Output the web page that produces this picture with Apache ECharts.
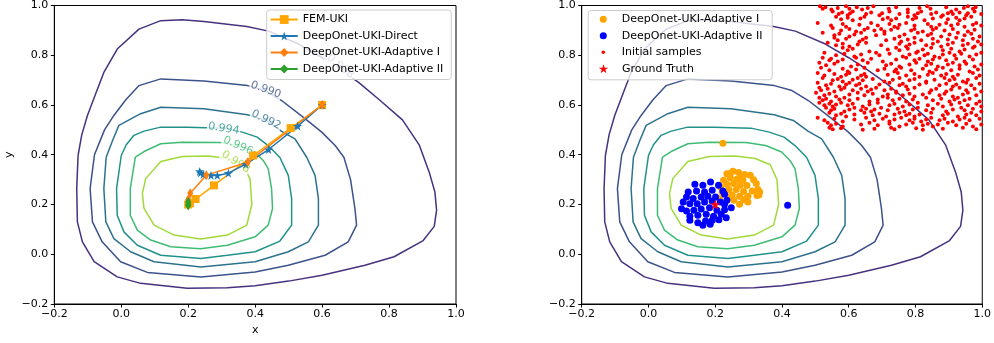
<!DOCTYPE html>
<html><head><meta charset="utf-8">
<script src="https://cdn.jsdelivr.net/npm/echarts@6/dist/echarts.min.js"></script>
<style>html,body{margin:0;padding:0;background:#fff}#c{width:994px;height:343px}</style>
</head><body><div id="c"></div>
<script>
// ---------- data ----------
const tickValues = [-0.2, 0.0, 0.2, 0.4, 0.6, 0.8, 1.0];
const contourLevels = ['0.988', '0.990', '0.992', '0.994', '0.996', '0.998'];
const contour988 = [[-0.129,0.397],[-0.118,0.48],[-0.101,0.558],[-0.075,0.65],[-0.052,0.731],[-0.012,0.825],[0.053,0.905],[0.118,0.939],[0.182,0.943],[0.247,0.936],[0.317,0.925],[0.375,0.916],[0.44,0.897],[0.53,0.845],[0.6,0.79],[0.655,0.742],[0.71,0.69],[0.77,0.622],[0.84,0.54],[0.89,0.44],[0.92,0.33],[0.937,0.25],[0.942,0.177],[0.935,0.112],[0.902,0.055],[0.815,-0.01],[0.728,-0.044],[0.6,-0.084],[0.5,-0.108],[0.4,-0.127],[0.317,-0.135],[0.197,-0.137],[0.058,-0.117],[-0.012,-0.091],[-0.081,-0.03],[-0.116,0.05],[-0.131,0.13],[-0.133,0.264],[-0.129,0.397]];
const contour990 = [[-0.08,0.4],[-0.05,0.5],[-0.022,0.558],[0.013,0.62],[0.053,0.678],[0.118,0.705],[0.247,0.696],[0.377,0.678],[0.43,0.658],[0.479,0.618],[0.549,0.545],[0.599,0.491],[0.639,0.437],[0.665,0.39],[0.685,0.3],[0.698,0.184],[0.703,0.117],[0.678,0.05],[0.609,-0.004],[0.499,-0.044],[0.4,-0.071],[0.238,-0.091],[0.078,-0.073],[-0.002,-0.03],[-0.057,0.05],[-0.086,0.13],[-0.093,0.264],[-0.08,0.4]];
const contour992 = [[-0.045,0.39],[-0.025,0.46],[-0.007,0.518],[0.058,0.565],[0.118,0.591],[0.247,0.585],[0.377,0.561],[0.434,0.538],[0.479,0.494],[0.519,0.464],[0.554,0.39],[0.579,0.317],[0.589,0.224],[0.589,0.117],[0.559,0.05],[0.499,0.01],[0.4,-0.03],[0.238,-0.051],[0.098,-0.03],[0.028,0.01],[-0.022,0.063],[-0.046,0.13],[-0.052,0.264],[-0.045,0.39]];
const contour994 = [[0.0,0.397],[0.015,0.44],[0.038,0.478],[0.068,0.495],[0.118,0.511],[0.197,0.511],[0.307,0.507],[0.362,0.491],[0.406,0.471],[0.439,0.437],[0.474,0.389],[0.499,0.317],[0.509,0.224],[0.509,0.117],[0.474,0.053],[0.4,0.01],[0.317,-0.004],[0.238,-0.017],[0.118,-0.004],[0.048,0.036],[0.008,0.09],[-0.012,0.157],[-0.014,0.264],[0.0,0.397]];
const contour996 = [[0.042,0.39],[0.068,0.413],[0.118,0.444],[0.182,0.45],[0.292,0.449],[0.351,0.437],[0.399,0.411],[0.424,0.377],[0.439,0.344],[0.449,0.264],[0.452,0.184],[0.439,0.117],[0.4,0.07],[0.317,0.036],[0.237,0.022],[0.148,0.03],[0.088,0.057],[0.048,0.097],[0.027,0.157],[0.027,0.264],[0.042,0.39]];
const contour998 = [[0.063,0.244],[0.073,0.304],[0.118,0.373],[0.182,0.393],[0.26,0.395],[0.32,0.385],[0.365,0.36],[0.385,0.3],[0.39,0.2],[0.375,0.117],[0.317,0.077],[0.237,0.061],[0.158,0.077],[0.098,0.117],[0.068,0.184],[0.063,0.244]];
const contourLabelAt = [[0.655,0.755],[0.432,0.661],[0.433,0.54],[0.306,0.505],[0.349,0.436],[0.342,0.371]];

const femUki = [[0.6,0.6],[0.506,0.507],[0.394,0.397],[0.277,0.277],[0.222,0.222],[0.205,0.205],[0.2,0.2]];
const deepOnetDirect = [[0.6,0.6],[0.527,0.515],[0.44,0.421],[0.372,0.362],[0.32,0.326],[0.287,0.317],[0.268,0.317],[0.245,0.321],[0.237,0.327],[0.234,0.333]];
const deepOnetAdaptive1 = [[0.6,0.6],[0.378,0.37],[0.254,0.318],[0.206,0.245],[0.2,0.22],[0.2,0.205]];
const deepOnetAdaptive2 = [[0.2,0.21],[0.2,0.2],[0.2,0.196]];

const adaptive1Samples = [[0.223,0.446],[0.235,0.324],[0.253,0.334],[0.27,0.329],[0.288,0.321],[0.305,0.318],[0.245,0.326],[0.278,0.313],[0.245,0.308],[0.225,0.297],[0.265,0.302],[0.283,0.297],[0.315,0.3],[0.235,0.281],[0.255,0.284],[0.275,0.277],[0.295,0.276],[0.323,0.284],[0.241,0.26],[0.263,0.26],[0.285,0.252],[0.311,0.254],[0.333,0.25],[0.328,0.26],[0.221,0.249],[0.216,0.27],[0.251,0.238],[0.273,0.233],[0.298,0.233],[0.325,0.236],[0.241,0.23],[0.256,0.217],[0.285,0.219],[0.298,0.21],[0.273,0.201],[0.213,0.223],[0.331,0.238],[0.293,0.224]];
const adaptive2Samples = [[0.139,0.281],[0.163,0.277],[0.186,0.29],[0.21,0.277],[0.119,0.25],[0.144,0.254],[0.168,0.25],[0.191,0.257],[0.223,0.254],[0.114,0.23],[0.134,0.224],[0.158,0.23],[0.178,0.233],[0.201,0.23],[0.228,0.241],[0.099,0.183],[0.104,0.21],[0.124,0.203],[0.146,0.203],[0.168,0.21],[0.191,0.214],[0.215,0.21],[0.235,0.217],[0.228,0.201],[0.248,0.187],[0.114,0.174],[0.136,0.177],[0.158,0.182],[0.183,0.187],[0.205,0.177],[0.228,0.179],[0.124,0.153],[0.148,0.157],[0.173,0.161],[0.195,0.153],[0.218,0.161],[0.233,0.147],[0.124,0.137],[0.148,0.127],[0.171,0.134],[0.191,0.137],[0.211,0.139],[0.163,0.117],[0.185,0.121],[0.417,0.197]];
const initialSamples = [
[0.514,0.997],[0.522,0.987],[0.53,0.993],[0.548,0.984],[0.567,0.99],[0.592,0.997],[0.602,0.987],[0.624,0.993],[0.64,0.984],[0.657,0.99],[0.674,0.997],[0.72,0.987],[0.742,0.993],[0.777,0.984],[0.812,0.99],[0.835,0.997],[0.845,0.987],[0.892,0.993],[0.922,0.984],[0.945,0.99],[0.957,0.997],[0.972,0.987],[0.98,0.993],
[0.552,0.976],[0.57,0.966],[0.58,0.972],[0.597,0.961],[0.604,0.969],[0.612,0.976],[0.652,0.966],[0.667,0.972],[0.692,0.961],[0.7,0.969],[0.722,0.976],[0.752,0.966],[0.777,0.972],[0.797,0.961],[0.807,0.969],[0.817,0.976],[0.847,0.966],[0.862,0.972],[0.882,0.961],[0.897,0.969],[0.907,0.976],[0.912,0.966],[0.932,0.972],[0.952,0.961],[0.957,0.969],[0.977,0.976],[0.997,0.966],
[0.562,0.955],[0.577,0.945],[0.597,0.951],[0.612,0.941],[0.635,0.948],[0.647,0.955],[0.702,0.945],[0.717,0.951],[0.727,0.941],[0.742,0.948],[0.777,0.955],[0.792,0.945],[0.802,0.951],[0.827,0.941],[0.852,0.948],[0.877,0.955],[0.897,0.945],[0.922,0.951],[0.932,0.941],[0.947,0.948],[0.967,0.955],
[0.507,0.93],[0.547,0.92],[0.582,0.926],[0.592,0.915],[0.632,0.923],[0.667,0.93],[0.687,0.92],[0.722,0.926],[0.737,0.915],[0.752,0.923],[0.772,0.93],[0.797,0.92],[0.837,0.926],[0.847,0.915],[0.872,0.923],[0.892,0.93],[0.907,0.92],[0.927,0.926],[0.947,0.915],[0.972,0.923],[0.982,0.93],[0.997,0.92],
[0.552,0.91],[0.577,0.9],[0.602,0.906],[0.622,0.895],[0.647,0.903],[0.657,0.91],[0.677,0.9],[0.697,0.906],[0.707,0.895],[0.727,0.903],[0.747,0.91],[0.787,0.9],[0.797,0.906],[0.822,0.895],[0.852,0.903],[0.862,0.91],[0.887,0.9],[0.912,0.906],[0.957,0.895],[0.977,0.903],
[0.522,0.89],[0.557,0.88],[0.572,0.886],[0.602,0.875],[0.617,0.883],[0.637,0.89],[0.682,0.88],[0.707,0.886],[0.752,0.875],[0.767,0.883],[0.807,0.89],[0.837,0.88],[0.847,0.886],[0.877,0.875],[0.902,0.883],[0.927,0.89],[0.947,0.88],[0.967,0.886],[0.992,0.875],
[0.557,0.87],[0.567,0.86],[0.592,0.866],[0.632,0.855],[0.642,0.863],[0.652,0.87],[0.712,0.86],[0.737,0.866],[0.757,0.855],[0.777,0.863],[0.797,0.87],[0.817,0.86],[0.852,0.866],[0.867,0.855],[0.897,0.863],[0.922,0.87],[0.942,0.86],[0.972,0.866],[0.987,0.855],
[0.537,0.85],[0.562,0.84],[0.582,0.846],[0.602,0.835],[0.627,0.843],[0.652,0.85],[0.697,0.84],[0.752,0.846],[0.772,0.835],[0.782,0.843],[0.797,0.85],[0.832,0.84],[0.852,0.846],[0.877,0.835],[0.897,0.843],[0.912,0.85],[0.942,0.84],[0.957,0.846],[0.977,0.835],[0.997,0.843],
[0.582,0.83],[0.597,0.82],[0.612,0.826],[0.662,0.815],[0.717,0.823],[0.742,0.83],[0.752,0.82],[0.777,0.826],[0.807,0.815],[0.822,0.823],[0.847,0.83],[0.882,0.82],[0.907,0.826],[0.932,0.815],[0.947,0.823],[0.972,0.83],
[0.527,0.81],[0.562,0.8],[0.587,0.806],[0.617,0.795],[0.637,0.803],[0.682,0.81],[0.692,0.8],[0.722,0.806],[0.762,0.795],[0.782,0.803],[0.802,0.81],[0.827,0.8],[0.837,0.806],[0.857,0.795],[0.882,0.803],[0.902,0.81],[0.917,0.8],[0.937,0.806],[0.962,0.795],[0.982,0.803],[0.997,0.81],
[0.522,0.79],[0.542,0.78],[0.547,0.786],[0.567,0.775],[0.582,0.783],[0.622,0.79],[0.642,0.78],[0.667,0.786],[0.702,0.775],[0.742,0.783],[0.772,0.79],[0.797,0.78],[0.812,0.786],[0.837,0.775],[0.852,0.783],[0.872,0.79],[0.892,0.78],[0.922,0.786],[0.947,0.775],[0.972,0.783],
[0.512,0.77],[0.532,0.76],[0.557,0.766],[0.607,0.755],[0.627,0.763],[0.657,0.77],[0.712,0.76],[0.727,0.766],[0.752,0.755],[0.782,0.763],[0.802,0.77],[0.832,0.76],[0.847,0.766],[0.867,0.755],[0.897,0.763],[0.912,0.77],[0.932,0.76],[0.952,0.766],[0.977,0.755],[0.997,0.763],
[0.517,0.75],[0.542,0.74],[0.582,0.746],[0.597,0.735],[0.622,0.743],[0.647,0.75],[0.687,0.74],[0.707,0.746],[0.737,0.735],[0.742,0.743],[0.757,0.75],[0.787,0.74],[0.822,0.746],[0.842,0.735],[0.862,0.743],[0.882,0.75],[0.907,0.74],[0.932,0.746],[0.962,0.735],[0.987,0.743],
[0.507,0.729],[0.527,0.719],[0.557,0.725],[0.577,0.714],[0.592,0.722],[0.602,0.729],[0.637,0.719],[0.647,0.725],[0.652,0.714],[0.717,0.722],[0.747,0.729],[0.772,0.719],[0.797,0.725],[0.812,0.714],[0.837,0.722],[0.852,0.729],[0.877,0.719],[0.892,0.725],[0.912,0.714],[0.927,0.722],[0.972,0.729],[0.992,0.719],
[0.522,0.709],[0.552,0.699],[0.567,0.705],[0.582,0.694],[0.612,0.702],[0.627,0.709],[0.642,0.699],[0.672,0.705],[0.707,0.694],[0.732,0.702],[0.752,0.709],[0.782,0.699],[0.797,0.705],[0.832,0.694],[0.857,0.702],[0.887,0.709],[0.902,0.699],[0.917,0.705],[0.942,0.694],[0.957,0.702],[0.982,0.709],
[0.507,0.689],[0.532,0.679],[0.547,0.685],[0.572,0.674],[0.592,0.682],[0.602,0.689],[0.622,0.679],[0.632,0.685],[0.652,0.674],[0.692,0.682],[0.722,0.689],[0.752,0.679],[0.762,0.685],[0.772,0.674],[0.812,0.682],[0.832,0.689],[0.872,0.679],[0.892,0.685],[0.912,0.674],[0.922,0.682],[0.952,0.689],[0.967,0.679],[0.992,0.685],
[0.512,0.669],[0.517,0.659],[0.537,0.665],[0.557,0.654],[0.577,0.662],[0.587,0.669],[0.612,0.659],[0.637,0.665],[0.657,0.654],[0.667,0.662],[0.682,0.669],[0.707,0.659],[0.727,0.665],[0.742,0.654],[0.777,0.662],[0.797,0.669],[0.847,0.659],[0.862,0.665],[0.892,0.654],[0.907,0.662],[0.932,0.669],[0.952,0.659],[0.977,0.665],[0.997,0.654],
[0.502,0.649],[0.527,0.639],[0.542,0.645],[0.562,0.634],[0.602,0.642],[0.627,0.649],[0.647,0.639],[0.672,0.645],[0.702,0.634],[0.717,0.642],[0.742,0.649],[0.762,0.639],[0.782,0.645],[0.797,0.634],[0.822,0.642],[0.842,0.649],[0.872,0.639],[0.887,0.645],[0.912,0.634],[0.942,0.642],[0.957,0.649],[0.982,0.639],
[0.512,0.629],[0.522,0.619],[0.532,0.625],[0.547,0.614],[0.572,0.622],[0.587,0.629],[0.602,0.619],[0.627,0.625],[0.662,0.614],[0.687,0.622],[0.717,0.629],[0.732,0.619],[0.752,0.625],[0.772,0.614],[0.792,0.622],[0.832,0.629],[0.852,0.619],[0.877,0.625],[0.902,0.614],[0.917,0.622],[0.927,0.629],[0.947,0.619],[0.962,0.625],[0.992,0.614],
[0.512,0.609],[0.527,0.599],[0.542,0.605],[0.552,0.594],[0.562,0.602],[0.577,0.609],[0.597,0.599],[0.612,0.605],[0.642,0.594],[0.662,0.602],[0.687,0.609],[0.722,0.599],[0.737,0.605],[0.762,0.594],[0.782,0.602],[0.807,0.609],[0.837,0.599],[0.867,0.605],[0.882,0.594],[0.907,0.602],[0.932,0.609],[0.957,0.599],[0.982,0.605],[0.997,0.594],
[0.532,0.589],[0.547,0.579],[0.557,0.585],[0.587,0.574],[0.602,0.582],[0.617,0.589],[0.637,0.579],[0.652,0.585],[0.667,0.574],[0.677,0.582],[0.697,0.589],[0.717,0.579],[0.747,0.585],[0.767,0.574],[0.792,0.582],[0.807,0.589],[0.832,0.579],[0.852,0.585],[0.892,0.574],[0.912,0.582],[0.937,0.589],[0.947,0.579],[0.972,0.585],[0.997,0.574],
[0.542,0.569],[0.562,0.559],[0.577,0.565],[0.592,0.554],[0.617,0.562],[0.647,0.569],[0.672,0.559],[0.692,0.565],[0.712,0.554],[0.737,0.562],[0.752,0.569],[0.772,0.559],[0.782,0.565],[0.797,0.554],[0.812,0.562],[0.847,0.569],[0.882,0.559],[0.897,0.565],[0.927,0.554],[0.952,0.562],[0.967,0.569],[0.982,0.559],
[0.507,0.549],[0.527,0.539],[0.557,0.545],[0.582,0.534],[0.617,0.542],[0.652,0.549],[0.677,0.539],[0.702,0.545],[0.722,0.534],[0.737,0.542],[0.757,0.549],[0.782,0.539],[0.797,0.545],[0.817,0.534],[0.832,0.542],[0.847,0.549],[0.872,0.539],[0.887,0.545],[0.912,0.534],[0.932,0.542],[0.947,0.549],[0.962,0.539],[0.992,0.545],
[0.537,0.529],[0.547,0.519],[0.562,0.525],[0.582,0.514],[0.637,0.522],[0.662,0.529],[0.687,0.519],[0.722,0.525],[0.752,0.514],[0.772,0.522],[0.792,0.529],[0.822,0.519],[0.837,0.525],[0.852,0.514],[0.867,0.522],[0.897,0.529],[0.922,0.519],[0.952,0.525],[0.972,0.514],[0.997,0.522],
[0.542,0.509],[0.552,0.503],[0.577,0.507],[0.642,0.501],[0.677,0.505],[0.727,0.509],[0.737,0.503],[0.802,0.507],[0.822,0.501],[0.882,0.505],[0.942,0.509],[0.982,0.503]
];
const groundTruth = [[0.2, 0.2]];

// ---------- styling ----------
const FONT = "'DejaVu Sans', sans-serif";
const FS = 11;
const contours = [contour988, contour990, contour992, contour994, contour996, contour998];
const contourColors = ['#46327e', '#3b528b', '#2c728e', '#21918c', '#3fbc73', '#a0da39'];
const contourLabelRotate = [-40, -20, -26, -9, -24, -34];
const STAR = 'path://M0,-10L2.245,-3.09L9.511,-3.09L3.633,1.18L5.878,8.09L0,3.82L-5.878,8.09L-3.633,1.18L-9.511,-3.09L-2.245,-3.09Z';
const fmt = v => { const r = Math.round(v * 10) / 10; return (r < 0 ? '\u2212' : '') + Math.abs(r).toFixed(1); };

function mkAxis(gridIndex, isX, name) {
  return {
    type: 'value', gridIndex, min: tickValues[0], max: tickValues[tickValues.length - 1], interval: 0.2,
    name: name || '', nameLocation: 'middle', nameGap: isX ? 20 : 40,
    nameTextStyle: { fontFamily: FONT, fontSize: FS, color: '#000' },
    axisLine: { show: true, onZero: false, lineStyle: { color: '#000', width: 1 } },
    axisTick: { show: true, inside: false, length: 3.5, lineStyle: { color: '#000', width: 1 } },
    axisLabel: { formatter: fmt, fontFamily: FONT, fontSize: FS, color: '#000', margin: isX ? 5 : 6 },
    splitLine: { show: false }
  };
}

const series = [];
[0, 1].forEach(p => {
  contours.forEach((pts, i) => series.push({
    type: 'line', xAxisIndex: p, yAxisIndex: p, data: pts, symbol: 'none', silent: true, z: 2,
    lineStyle: { color: contourColors[i], width: 1.5 }
  }));
});
series.push({
  type: 'scatter', xAxisIndex: 0, yAxisIndex: 0, symbolSize: 1, silent: true, z: 2,
  itemStyle: { color: 'rgba(0,0,0,0)' },
  label: { show: true, position: 'inside', fontFamily: FONT, fontSize: FS, backgroundColor: '#fff', padding: [0, 1] },
  data: contourLevels.map((t, i) => ({ value: contourLabelAt[i], label: { formatter: t, rotate: contourLabelRotate[i], color: contourColors[i] } }))
});
const traj = [
  ['FEM-UKI', femUki, 'rect', 8, '#ffa500'],
  ['DeepOnet-UKI-Direct', deepOnetDirect, STAR, 9, '#1f77b4'],
  ['DeepOnet-UKI-Adaptive I', deepOnetAdaptive1, 'diamond', [6, 10], '#ff7f0e'],
  ['DeepOnet-UKI-Adaptive II', deepOnetAdaptive2, 'diamond', [6, 10], '#2ca02c']
];
traj.forEach(t => series.push({
  type: 'line', name: t[0], xAxisIndex: 0, yAxisIndex: 0, data: t[1], symbol: t[2], symbolSize: t[3],
  showSymbol: true, z: 3, lineStyle: { color: t[4], width: 1.5 }, itemStyle: { color: t[4] }
}));
series.push({ type: 'scatter', name: 'DeepOnet-UKI-Adaptive I', xAxisIndex: 1, yAxisIndex: 1, data: adaptive1Samples, symbolSize: 7, z: 3, itemStyle: { color: '#ffa500', opacity: 1 } });
series.push({ type: 'scatter', name: 'DeepOnet-UKI-Adaptive II', xAxisIndex: 1, yAxisIndex: 1, data: adaptive2Samples, symbolSize: 7, z: 3, itemStyle: { color: '#0000ff', opacity: 1 } });
series.push({ type: 'scatter', name: 'Initial samples', xAxisIndex: 1, yAxisIndex: 1, data: initialSamples, symbolSize: 4, z: 3, itemStyle: { color: '#ff0000', opacity: 1 } });
series.push({ type: 'scatter', name: 'Ground Truth', xAxisIndex: 1, yAxisIndex: 1, data: groundTruth, symbol: STAR, symbolSize: 10, z: 3, itemStyle: { color: '#ff0000', opacity: 1 } });

const lgText = { fontFamily: FONT, fontSize: FS, color: '#000' };
const rightRows = [
  [{ name: 'DeepOnet-UKI-Adaptive I', icon: 'circle', itemStyle: { color: '#ffa500', opacity: 1 } }, 7, 19.3],
  [{ name: 'DeepOnet-UKI-Adaptive II', icon: 'circle', itemStyle: { color: '#0000ff', opacity: 1 } }, 7, 35.7],
  [{ name: 'Initial samples', icon: 'circle', itemStyle: { color: '#ff0000', opacity: 1 } }, 3.5, 52.3],
  [{ name: 'Ground Truth', icon: STAR, itemStyle: { color: '#ff0000', opacity: 1 } }, 9, 68.7]
];
const legends = [{
  orient: 'vertical', left: 266.7, top: 10, padding: [4, 8, 5, 3], itemWidth: 27, itemHeight: 11, itemGap: 5.5,
  backgroundColor: 'rgba(255,255,255,0.8)', borderColor: '#cccccc', borderWidth: 1, borderRadius: 3,
  textStyle: lgText, selectedMode: false, z: 4, data: traj.map(t => t[0])
}];
// icon centre of right legend at x = 603.3; legend bounding box starts at icon's left edge
rightRows.forEach(r => legends.push({
  orient: 'vertical', left: 603.3 - r[1] / 2, top: r[2] - FS / 2, padding: 0, itemWidth: 27, itemHeight: r[1],
  textStyle: lgText, selectedMode: false, z: 6, data: [r[0]]
}));

const option = {
  animation: false,
  backgroundColor: '#fff',
  grid: [
    { left: 54.3, top: 4.7, width: 401.7, height: 299.3, show: true, borderColor: '#000', borderWidth: 1 },
    { left: 581.7, top: 4.7, width: 401.6, height: 299.3, show: true, borderColor: '#000', borderWidth: 1 }
  ],
  xAxis: [mkAxis(0, true, 'x'), mkAxis(1, true)],
  yAxis: [mkAxis(0, false, 'y'), mkAxis(1, false)],
  legend: legends,
  graphic: [{
    type: 'rect', left: 587.7, top: 10, z: 5,
    shape: { width: 184, height: 69.3, r: 3 },
    style: { fill: 'rgba(255,255,255,0.8)', stroke: '#cccccc', lineWidth: 1 }
  }],
  series
};
const chart = echarts.init(document.getElementById('c'), null, { renderer: 'canvas' });
chart.setOption(option);
</script>
</body></html>
